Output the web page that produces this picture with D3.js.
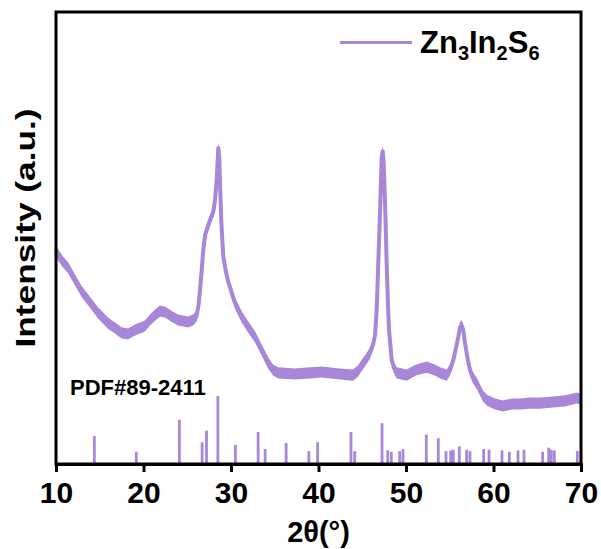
<!DOCTYPE html>
<html>
<head>
<meta charset="utf-8">
<script src="https://cdn.jsdelivr.net/npm/d3@7"></script>
<style>
  body { margin: 0; background: #fff; }
  svg text { font-family: "Liberation Sans", Arial, sans-serif; font-weight: bold; fill: #000; }
</style>
</head>
<body>
<div id="chart"></div>
<script>
// XRD pattern of Zn3In2S6 with the PDF#89-2411 reference sticks

var width = 601,
    height = 549,
    margin = {left: 56, right: 20, top: 12, bottom: 85};

// measured pattern (2theta in degrees, intensity in counts)
var twoTheta = [10.0, 10.26, 10.8, 11.4, 12.17, 12.97, 13.69, 14.8, 15.94, 16.74,
    17.5, 18.23, 19.03, 20.17, 20.74, 21.31, 21.89, 22.46, 23.14, 23.94,
    25.09, 25.66, 26.08, 26.29, 26.46, 26.65, 26.83, 27.03, 27.41, 27.71,
    27.98, 28.17, 28.37, 28.45, 28.55, 28.66, 28.74, 28.91, 29.12, 29.43,
    29.69, 30.46, 31.22, 31.98, 32.74, 33.51, 34.26, 34.8, 35.4, 37.31,
    39.03, 40.37, 42.46, 43.94, 44.51, 45.12, 45.54, 45.89, 46.23, 46.46,
    46.65, 46.83, 47.03, 47.22, 47.34, 47.43, 47.52, 47.66, 47.79, 47.94,
    48.06, 48.37, 48.63, 48.94, 50.08, 51.14, 52.37, 53.31, 53.89, 54.65,
    55.03, 55.41, 55.71, 55.98, 56.17, 56.37, 56.55, 56.74, 57.03, 57.31,
    57.66, 58.08, 58.46, 58.8, 59.22, 60.17, 61.09, 62.11, 63.03, 64.17,
    65.31, 66.8, 68.17, 69.54, 70.0];
var counts = [530, 522, 505, 490, 460, 430, 410, 378, 352, 340,
    328, 325, 335, 345, 360, 372, 382, 380, 370, 360,
    355, 360, 370, 398, 435, 485, 535, 572, 598, 615,
    630, 660, 710, 748, 790, 765, 705, 598, 518, 480,
    455, 402, 368, 342, 318, 285, 252, 235, 228, 225,
    228, 230, 225, 222, 232, 252, 265, 278, 298, 322,
    385, 502, 628, 765, 782, 760, 710, 610, 502, 398,
    335, 260, 240, 228, 222, 235, 242, 235, 228, 222,
    235, 260, 290, 318, 342, 345, 335, 302, 265, 235,
    215, 202, 185, 170, 160, 150, 145, 150, 150, 152,
    152, 155, 158, 165, 162];
// spread of the noisy trace around the points above (counts)
var noiseSpread = 14;

// PDF#89-2411 reference lines (2theta, relative intensity)
var refPos = [14.38, 19.18, 24.1, 26.7, 27.2, 28.5, 30.5, 33.1, 33.9, 36.3,
    38.9, 39.9, 43.71, 44.14, 47.26, 47.91, 48.32, 49.28, 49.66, 52.32,
    53.69, 54.57, 55.11, 55.41, 56.09, 56.93, 57.31, 58.88, 59.49, 60.97,
    61.81, 62.8, 63.49, 65.62, 66.31, 66.6, 66.95, 69.58];
var refInt = [41, 18, 65, 32, 49, 100, 28, 47, 22, 31,
    19, 32, 47, 19, 60, 20, 18, 19, 22, 43,
    38, 19, 20, 21, 26, 21, 19, 22, 21, 20,
    18, 20, 21, 18, 24, 21, 20, 19];

var xTicks = [10, 20, 30, 40, 50, 60, 70];
var seriesName = ["Zn", "3", "In", "2", "S", "6"];
var refName = "PDF#89-2411";

var purple = "#a886d8";

var svg = d3.select("#chart").append("svg")
    .attr("width", width)
    .attr("height", height);

var x = d3.scaleLinear().domain([10, 70]).range([margin.left, width - margin.right]);
var y = d3.scaleLinear().domain([0, 1130]).range([height - margin.bottom, margin.top]);
// reference sticks use their own relative scale, tallest line = 100
var yRef = d3.scaleLinear().domain([0, 100]).range([height - margin.bottom, height - margin.bottom - 68]);

var pattern = twoTheta.map(function(t, i) { return {t: t, c: counts[i]}; });
var sticks = refPos.map(function(t, i) { return {t: t, r: refInt[i]}; });

// noise band
var band = d3.area()
    .x(function(d) { return x(d.t); })
    .y0(function(d) { return y(d.c - noiseSpread); })
    .y1(function(d) { return y(d.c + noiseSpread); });
svg.append("path")
    .datum(pattern)
    .attr("d", band)
    .attr("fill", purple);

var line = d3.line()
    .x(function(d) { return x(d.t); })
    .y(function(d) { return y(d.c); });
svg.append("path")
    .datum(pattern)
    .attr("d", line)
    .attr("fill", "none")
    .attr("stroke", purple)
    .attr("stroke-width", 4)
    .attr("stroke-linejoin", "round");

// reference sticks
svg.selectAll(".stick")
    .data(sticks)
    .enter().append("line")
    .attr("class", "stick")
    .attr("x1", function(d) { return x(d.t); })
    .attr("x2", function(d) { return x(d.t); })
    .attr("y1", yRef(0))
    .attr("y2", function(d) { return yRef(d.r); })
    .attr("stroke", purple)
    .attr("stroke-width", 2.8);

// frame
svg.append("rect")
    .attr("x", x(10))
    .attr("y", y(1130))
    .attr("width", x(70) - x(10))
    .attr("height", y(0) - y(1130))
    .attr("fill", "none")
    .attr("stroke", "#000")
    .attr("stroke-width", 3);

// bottom axis
var xAxis = d3.axisBottom(x).tickValues(xTicks).tickSize(8).tickPadding(10);
var gx = svg.append("g")
    .attr("transform", "translate(0," + y(0) + ")")
    .call(xAxis);
gx.select(".domain").attr("stroke-width", 3);
gx.selectAll(".tick line").attr("stroke-width", 3);
gx.selectAll(".tick text")
    .attr("font-family", null)
    .attr("font-size", null)
    .style("font-size", "30px");

// axis titles
svg.append("text")
    .attr("x", (x(10) + x(70)) / 2)
    .attr("y", 542)
    .attr("text-anchor", "middle")
    .style("font-size", "29px")
    .text("2θ(°)");

svg.append("text")
    .attr("transform", "translate(35," + 228 + ") rotate(-90)")
    .attr("text-anchor", "middle")
    .attr("textLength", 239)
    .attr("lengthAdjust", "spacingAndGlyphs")
    .style("font-size", "27px")
    .text("Intensity (a.u.)");

// reference label
svg.append("text")
    .attr("x", 70)
    .attr("y", 395)
    .style("font-size", "22px")
    .text(refName);

// legend
svg.append("line")
    .attr("x1", 340).attr("x2", 412)
    .attr("y1", 42.5).attr("y2", 42.5)
    .attr("stroke", purple)
    .attr("stroke-width", 3);

var leg = svg.append("text")
    .attr("x", 420)
    .attr("y", 53)
    .style("font-size", "31px");
seriesName.forEach(function(s, i) {
    var sub = i % 2 === 1;
    leg.append("tspan")
        .attr("dy", sub ? 7 : (i > 0 ? -7 : 0))
        .style("font-size", sub ? "20px" : "31px")
        .text(s);
});
</script>
</body>
</html>
